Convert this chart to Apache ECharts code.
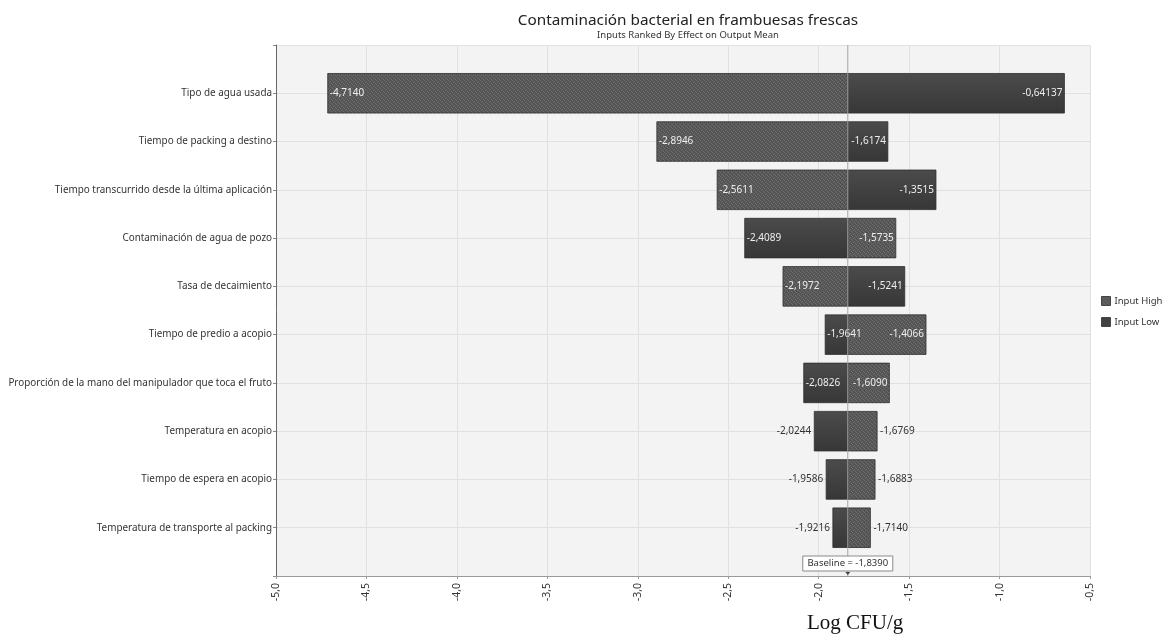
<!DOCTYPE html>
<html>
<head>
<meta charset="utf-8">
<script src="https://cdn.jsdelivr.net/npm/echarts@6/dist/echarts.min.js"></script>
<style>
  html, body { margin: 0; padding: 0; background: #ffffff; }
  #chart { width: 1165px; height: 640px; }
</style>
</head>
<body>
<div id="chart"></div>
<script>
// Tornado chart: output mean for each input at its high and low setting
const categories = [
  'Tipo de agua usada',
  'Tiempo de packing a destino',
  'Tiempo transcurrido desde la última aplicación',
  'Contaminación de agua de pozo',
  'Tasa de decaimiento',
  'Tiempo de predio a acopio',
  'Proporción de la mano del manipulador que toca el fruto',
  'Temperatura en acopio',
  'Tiempo de espera en acopio',
  'Temperatura de transporte al packing'
];
const inputHigh = [-4.7140, -2.8946, -2.5611, -1.5735, -2.1972, -1.4066, -1.6090, -1.6769, -1.6883, -1.7140];
const inputLow  = [-0.64137, -1.6174, -1.3515, -2.4089, -1.5241, -1.9641, -2.0826, -2.0244, -1.9586, -1.9216];
const baseline = -1.8390;
const xTicks = { min: -5.0, max: -0.5, step: 0.5 };

const FONT = 'Noto Sans';
// category axis padded with an empty slot at each end
const axisCats = [''].concat(categories, ['']);

function fmt(v) {
  return v.toPrecision(5).replace('.', ',');
}

// fine grainy fill for the "Input High" segments
function makeStipple() {
  const c = document.createElement('canvas');
  c.width = 4; c.height = 4;
  const g = c.getContext('2d');
  g.fillStyle = '#575757'; g.fillRect(0, 0, 4, 4);
  g.fillStyle = '#6c6c6c';
  g.fillRect(0, 0, 1, 1); g.fillRect(2, 1, 1, 1);
  g.fillRect(1, 2, 1, 1); g.fillRect(3, 3, 1, 1);
  g.fillStyle = '#4a4a4a';
  g.fillRect(2, 0, 1, 1); g.fillRect(0, 2, 1, 1);
  return c;
}
const stipple = { image: makeStipple(), repeat: 'repeat' };

function segmentRenderer(isHigh) {
  return function (params, api) {
    const cat = api.value(0);
    const val = api.value(1);
    const other = api.value(2);
    const pBase = api.coord([baseline, cat]);
    const pVal = api.coord([val, cat]);
    const pOther = api.coord([other, cat]);
    const h = api.size([0, 1])[1] * 0.82;
    const x = Math.min(pBase[0], pVal[0]);
    const w = Math.abs(pVal[0] - pBase[0]);
    const y = pBase[1] - h / 2;
    const fill = isHigh ? stipple : {
      type: 'linear', x: 0, y: 0, x2: 0, y2: 1,
      colorStops: [{ offset: 0, color: '#4b4b4b' }, { offset: 1, color: '#373737' }]
    };
    const fullWidth = Math.abs(pVal[0] - pOther[0]);
    const inside = fullWidth >= 75;
    const onLeft = val < baseline;
    let tx, align;
    if (inside) {
      tx = onLeft ? pVal[0] + 2 : pVal[0] - 2;
      align = onLeft ? 'left' : 'right';
    } else {
      tx = onLeft ? pVal[0] - 3 : pVal[0] + 3;
      align = onLeft ? 'right' : 'left';
    }
    return {
      type: 'group',
      children: [
        {
          type: 'rect',
          shape: { x: x, y: y, width: w, height: h },
          style: { fill: fill, stroke: '#2e2e2e', lineWidth: 0.8 }
        },
        {
          type: 'text',
          z2: 10,
          style: {
            x: tx, y: pBase[1],
            text: fmt(val),
            fill: inside ? '#eeeeee' : '#333333',
            font: '10px "' + FONT + '"',
            align: align,
            verticalAlign: 'middle'
          }
        }
      ]
    };
  };
}

function baselineRenderer(params, api) {
  const top = api.coord([baseline, 0]);
  const bottom = api.coord([baseline, axisCats.length - 1]);
  const bx = bottom[0];
  const by = bottom[1];
  const boxW = 90, boxH = 15;
  return {
    type: 'group',
    children: [
      {
        type: 'line',
        shape: { x1: bx, y1: top[1], x2: bx, y2: by },
        style: { stroke: '#a5a5a5', lineWidth: 1 }
      },
      {
        type: 'rect',
        shape: { x: bx - boxW / 2, y: by - 20, width: boxW, height: boxH },
        style: { fill: '#ffffff', stroke: '#8a8a8a', lineWidth: 1 }
      },
      {
        type: 'text',
        style: {
          x: bx, y: by - 20 + boxH / 2,
          text: 'Baseline = ' + fmt(baseline),
          fill: '#333333',
          font: '9.5px "' + FONT + '"',
          align: 'center', verticalAlign: 'middle'
        }
      },
      {
        type: 'polygon',
        shape: { points: [[bx - 2.5, by - 4], [bx + 2.5, by - 4], [bx, by - 1]] },
        style: { fill: '#444444' }
      }
    ]
  };
}

const highData = categories.map((c, i) => [c, inputHigh[i], inputLow[i]]);
const lowData = categories.map((c, i) => [c, inputLow[i], inputHigh[i]]);

const chart = echarts.init(document.getElementById('chart'), null, { renderer: 'canvas' });
chart.setOption({
  animation: false,
  backgroundColor: '#ffffff',
  textStyle: { fontFamily: FONT },
  title: [{
    text: 'Contaminación bacterial en frambuesas frescas',
    subtext: 'Inputs Ranked By Effect on Output Mean',
    left: 683, top: 8, textAlign: 'center',
    itemGap: 2,
    textStyle: { fontFamily: FONT, fontSize: 15.3, fontWeight: 'normal', color: '#222222' },
    subtextStyle: { fontFamily: FONT, fontSize: 9.5, color: '#333333' }
  }],
  legend: {
    orient: 'vertical',
    left: 1096, top: 291,
    itemWidth: 9, itemHeight: 9, itemGap: 11,
    icon: 'rect',
    itemStyle: { borderColor: '#444444', borderWidth: 1 },
    textStyle: { fontFamily: FONT, fontSize: 9.5, color: '#333333', padding: [0, 0, 0, -1] },
    data: ['Input High', 'Input Low']
  },
  grid: {
    left: 276, right: 75, top: 45, bottom: 64,
    show: true, backgroundColor: '#f3f3f3', borderWidth: 0
  },
  xAxis: {
    type: 'value',
    min: xTicks.min, max: xTicks.max, interval: xTicks.step,
    axisLine: { show: true, lineStyle: { color: '#9a9a9a', width: 1 } },
    axisTick: { show: true, length: 3, lineStyle: { color: '#9a9a9a' } },
    axisLabel: {
      rotate: 90, margin: 7,
      fontFamily: FONT, fontSize: 10.5, color: '#333333',
      formatter: v => v.toFixed(1).replace('.', ',')
    },
    splitLine: { show: true, lineStyle: { color: '#e0e0e0', width: 1 } }
  },
  yAxis: {
    type: 'category',
    data: axisCats,
    inverse: true,
    boundaryGap: false,
    axisLine: { show: true, lineStyle: { color: '#666666', width: 1 } },
    axisTick: { show: true, length: 3, lineStyle: { color: '#888888' } },
    axisLabel: { fontFamily: FONT, fontSize: 9.9, color: '#333333', margin: 4, interval: 0 },
    splitLine: { show: true, lineStyle: { color: '#e0e0e0', width: 1 } }
  },
  graphic: [{
    type: 'text',
    left: 807, top: 613,
    style: {
      text: 'Log CFU/g',
      fill: '#111111',
      font: '21px "Liberation Serif"'
    }
  }],
  series: [
    {
      name: 'Input High',
      type: 'custom',
      renderItem: segmentRenderer(true),
      encode: { x: [1, 2], y: 0 },
      itemStyle: { color: stipple },
      data: highData,
      z: 2
    },
    {
      name: 'Input Low',
      type: 'custom',
      renderItem: segmentRenderer(false),
      encode: { x: [1, 2], y: 0 },
      itemStyle: { color: '#414141' },
      data: lowData,
      z: 2
    },
    {
      name: 'Baseline',
      type: 'custom',
      renderItem: baselineRenderer,
      encode: { x: 0 },
      data: [[baseline]],
      silent: true,
      z: 5
    }
  ]
});
</script>
</body>
</html>
